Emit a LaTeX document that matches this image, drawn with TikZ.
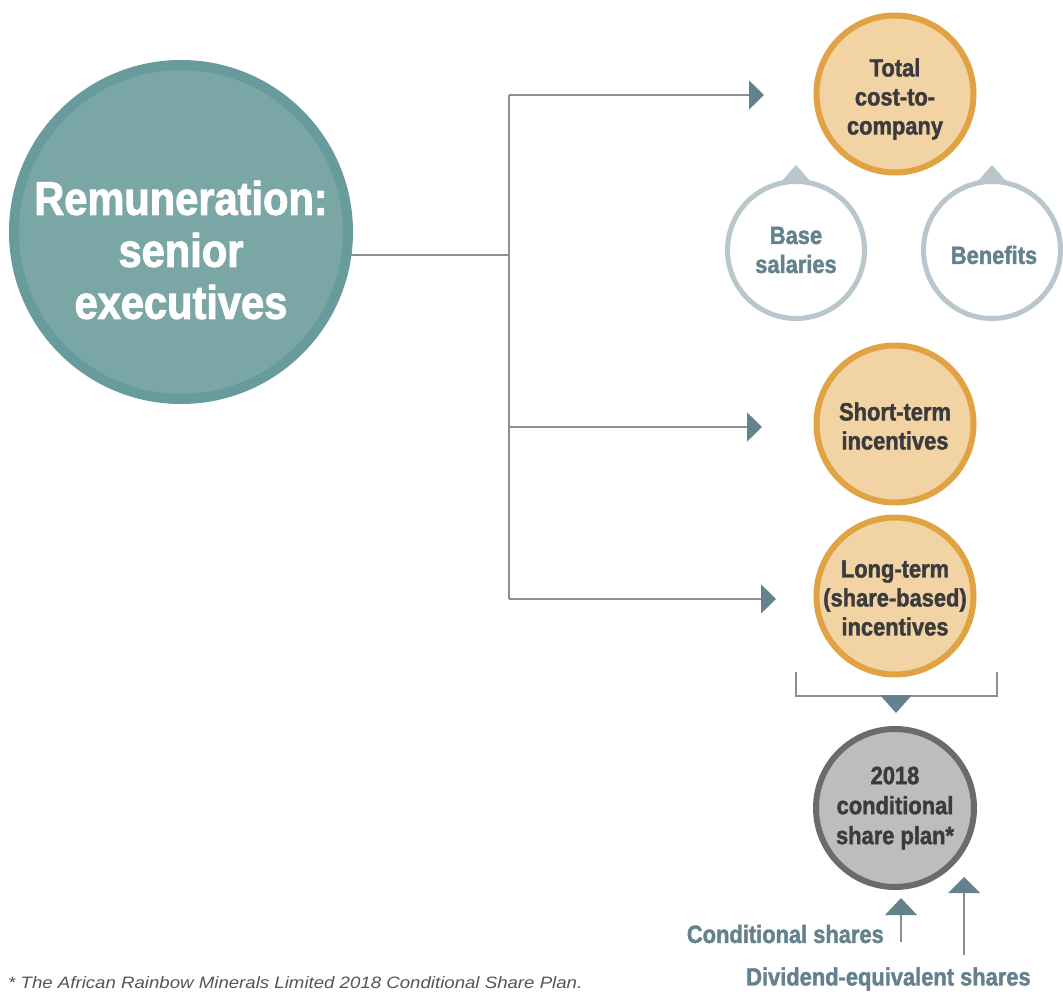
\documentclass[tikz,border=0pt]{standalone}
\usepackage{fontspec}
\setmainfont{Liberation Sans}
\newfontfamily\condfont[FakeStretch=0.875,FakeBold=1.6]{Liberation Sans}
\newfontfamily\bigfont[FakeStretch=0.885,FakeBold=2]{Liberation Sans}
\newfontfamily\footfont[FakeStretch=1.13]{Liberation Sans}
\usetikzlibrary{arrows.meta,calc}
\definecolor{tealring}{HTML}{689B9B}
\definecolor{tealfill}{HTML}{7AA6A6}
\definecolor{orring}{HTML}{E0A243}
\definecolor{orfill}{HTML}{F2D3A3}
\definecolor{darktext}{HTML}{3B3B3D}
\definecolor{lightring}{HTML}{B9C7CD}
\definecolor{slate}{HTML}{64818E}
\definecolor{linegray}{HTML}{8C8E90}
\definecolor{greyring}{HTML}{6B6B6D}
\definecolor{greyfill}{HTML}{BDBDBF}
\definecolor{foottext}{HTML}{555555}
\tikzset{
  bigcirc/.style={circle, draw=tealring, fill=tealfill, line width=10pt, minimum size=334pt, inner sep=0pt},
  bigtext/.style={text=white, font=\bigfont\bfseries\fontsize{47}{52}\selectfont, align=center},
  cirtext/.style={font=\condfont\bfseries\fontsize{25}{29}\selectfont, align=center, inner sep=0pt},
  orcirc/.style={circle, draw=orring, fill=orfill, line width=6pt, minimum size=157pt, inner sep=0pt,
     text=darktext, cirtext},
  lightcirc/.style={circle, draw=lightring, fill=white, line width=5pt, minimum size=137pt, inner sep=0pt,
     text=slate, cirtext},
  greycirc/.style={circle, draw=greyring, fill=greyfill, line width=6pt, minimum size=158pt, inner sep=0pt,
     text=darktext, font=\condfont\bfseries\fontsize{25}{30}\selectfont, align=center},
  conn/.style={draw=linegray, line width=1.5pt},
  arr/.style={conn, -{Triangle[length=15pt, width=29pt, color=slate]}},
  slatelabel/.style={text=slate, font=\condfont\bfseries\fontsize{25}{29}\selectfont, inner sep=0pt},
  tri/.style={fill=slate, draw=none},
  lighttri/.style={fill=lightring, draw=none}
}
\begin{document}
\begin{tikzpicture}[x=1pt, y=-1pt]
\useasboundingbox (0,0) rectangle (1063,992);

% main circle
\node[bigcirc] (main) at (181,232) {};
\node[bigtext] (maintext) at (181,250) {Remuneration:\\senior\\executives};

% right-hand circles
\node[orcirc] (tcc) at (895,94) {};
\node[cirtext, text=darktext] (tcctext) at (895,99) {Total\\cost-to-\\company};
\node[lightcirc] (base) at (796,250) {Base\\salaries};
\node[lightcirc] (ben) at (992,250) {};
\node[cirtext, text=slate] (bentext) at (994,255) {Benefits};
\node[orcirc] (sti) at (895,424) {};
\node[cirtext, text=darktext] (stitext) at (895,426) {Short-term\\incentives};
\node[orcirc] (lti) at (895,596) {};
\node[cirtext, text=darktext] (ltitext) at (895,598) {Long-term\\(share-based)\\incentives};
\node[greycirc] (csp) at (895,808) {2018\\conditional\\share plan*};

% pointers on light circles
\fill[lighttri] ($(base.north)+(-15,3)$) -- ($(base.north)+(15,3)$) -- ($(base.north)+(0,-14)$) -- cycle;
\fill[lighttri] ($(ben.north)+(-15,3)$) -- ($(ben.north)+(15,3)$) -- ($(ben.north)+(0,-14)$) -- cycle;

% connectors
\coordinate (j) at (509,255);
\coordinate (jt) at (509,95);
\coordinate (jm) at (509,427);
\coordinate (jb) at (509,599);
\coordinate (at) at (764,95);
\coordinate (am) at (762,427);
\coordinate (ab) at (776,599);
\draw[conn] ($(main.east |- j)+(-3,0)$) -- (j);
\draw[conn] (jt) -- (jb);
\draw[arr] (jt) -- (at);
\draw[arr] (jm) -- (am);
\draw[arr] (jb) -- (ab);

% bracket under long-term incentives
\coordinate (bl) at (796,672);
\coordinate (br) at (997,672);
\draw[conn] (bl) -- (796,696) -- (997,696) -- (br);
\fill[tri] (880,695) -- (912,695) -- (896,713) -- cycle;

% labels with up arrows
\node[slatelabel, anchor=east] (cs) at (884,934) {Conditional shares};
\node[slatelabel, anchor=west] (des) at (746,979) {Dividend-equivalent shares};
\coordinate (csbot) at (901,942);
\coordinate (cstop) at (901,915);
\coordinate (desbot) at (964,955);
\coordinate (destop) at (964,893);
\draw[conn] (csbot) -- (cstop);
\draw[conn] (desbot) -- (destop);
\fill[tri] (885,915) -- (917,915) -- (901,898) -- cycle;
\fill[tri] (948,893) -- (980,893) -- (964,877) -- cycle;

% footnote
\node[anchor=west, inner sep=0pt, text=foottext, font=\footfont\itshape\fontsize{16.5}{18}\selectfont] (fn) at (8,983) {* The African Rainbow Minerals Limited 2018 Conditional Share Plan.};
\end{tikzpicture}
\end{document}
